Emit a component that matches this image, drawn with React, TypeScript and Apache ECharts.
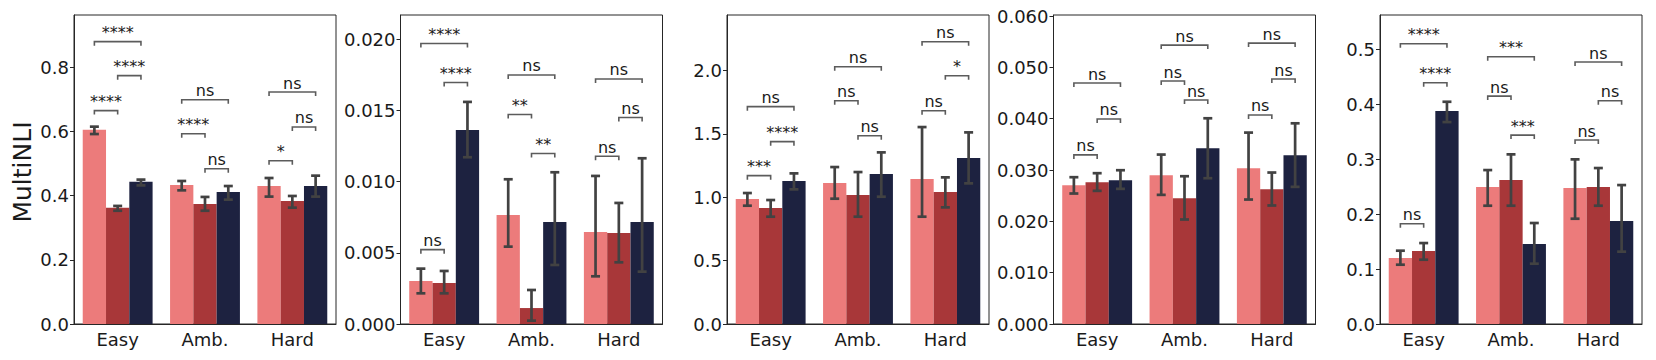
import React, { useEffect, useRef } from "react";
import * as echarts from "echarts";

const categories = ["Easy", "Amb.", "Hard"];
const groupColors = ["#EC7B7B", "#A83739", "#1D2240"];

// Panel 1 (MultiNLI): means, CI lows, CI highs for pink / red / navy
const p1Pink = [0.605, 0.433, 0.430];
const p1Red = [0.362, 0.374, 0.383];
const p1Navy = [0.443, 0.411, 0.430];
const p1Lo = [[0.592, 0.4166, 0.397], [0.353, 0.353, 0.3626], [0.432, 0.3875, 0.397]];
const p1Hi = [[0.615, 0.4457, 0.455], [0.368, 0.396, 0.399], [0.450, 0.430, 0.4623]];
const p1Brackets: [number, number, number, number, string][] = [
  [0, 0, 1, 0.665, "****"], [0, 1, 2, 0.774, "****"], [0, 0, 2, 0.880, "****"],
  [1, 0, 1, 0.593, "****"], [1, 1, 2, 0.484, "ns"], [1, 0, 2, 0.699, "ns"],
  [2, 0, 1, 0.509, "*"], [2, 1, 2, 0.614, "ns"], [2, 0, 2, 0.723, "ns"],
];
const p1Ticks = [0, 0.2, 0.4, 0.6, 0.8];

// Panel 2
const p2Pink = [0.00302, 0.00766, 0.00646];
const p2Red = [0.00288, 0.00112, 0.00639];
const p2Navy = [0.01363, 0.00717, 0.00717];
const p2Lo = [[0.002155, 0.005433, 0.003349], [0.002155, 0.000234, 0.004333], [0.01171, 0.004145, 0.003677]];
const p2Hi = [[0.003888, 0.010164, 0.010398], [0.003724, 0.002389, 0.008501], [0.015597, 0.010656, 0.011639]];
const p2Brackets: [number, number, number, number, string][] = [
  [0, 0, 1, 0.00522, "ns"], [0, 1, 2, 0.01696, "****"], [0, 0, 2, 0.0197, "****"],
  [1, 0, 1, 0.01471, "**"], [1, 1, 2, 0.01197, "**"], [1, 0, 2, 0.01749, "ns"],
  [2, 0, 1, 0.01178, "ns"], [2, 1, 2, 0.0145, "ns"], [2, 0, 2, 0.01721, "ns"],
];
const p2Ticks = [0, 0.005, 0.01, 0.015, 0.02];

// Panel 3
const p3Pink = [0.986, 1.112, 1.143];
const p3Red = [0.915, 1.017, 1.041];
const p3Navy = [1.127, 1.183, 1.309];
const p3Lo = [[0.933, 0.9882, 0.8463], [0.8463, 0.8463, 0.9198], [1.0618, 1.0039, 1.1091]];
const p3Hi = [[1.0329, 1.2378, 1.5532], [0.9777, 1.1984, 1.1564], [1.1879, 1.3535, 1.5112]];
const p3Brackets: [number, number, number, number, string][] = [
  [0, 0, 1, 1.17, "***"], [0, 1, 2, 1.438, "****"], [0, 0, 2, 1.714, "ns"],
  [1, 0, 1, 1.761, "ns"], [1, 1, 2, 1.485, "ns"], [1, 0, 2, 2.029, "ns"],
  [2, 0, 1, 1.682, "ns"], [2, 1, 2, 1.958, "*"], [2, 0, 2, 2.226, "ns"],
];
const p3Ticks = [0, 0.5, 1.0, 1.5, 2.0];

// Panel 4
const p4Pink = [0.02704, 0.02899, 0.03035];
const p4Red = [0.02763, 0.02451, 0.02626];
const p4Navy = [0.02802, 0.03424, 0.03288];
const p4Lo = [[0.02542, 0.02516, 0.02425], [0.02594, 0.02036, 0.02309], [0.02633, 0.0284, 0.02672]];
const p4Hi = [[0.0286, 0.03301, 0.03729], [0.02938, 0.02879, 0.02951], [0.02996, 0.04008, 0.0391]];
const p4Brackets: [number, number, number, number, string][] = [
  [0, 0, 1, 0.03294, "ns"], [0, 1, 2, 0.03995, "ns"], [0, 0, 2, 0.04695, "ns"],
  [1, 0, 1, 0.04734, "ns"], [1, 1, 2, 0.04364, "ns"], [1, 0, 2, 0.05434, "ns"],
  [2, 0, 1, 0.04073, "ns"], [2, 1, 2, 0.04773, "ns"], [2, 0, 2, 0.05473, "ns"],
];
const p4Ticks = [0, 0.01, 0.02, 0.03, 0.04, 0.05, 0.06];

// Panel 5
const p5Pink = [0.1201, 0.2494, 0.2476];
const p5Red = [0.1329, 0.2621, 0.2494];
const p5Navy = [0.3877, 0.1456, 0.1875];
const p5Lo = [[0.108, 0.2154, 0.1917], [0.1171, 0.2154, 0.2154], [0.3677, 0.1098, 0.1317]];
const p5Hi = [[0.1335, 0.2803, 0.2998], [0.1474, 0.3089, 0.284], [0.4047, 0.1839, 0.253]];
const p5Brackets: [number, number, number, number, string][] = [
  [0, 0, 1, 0.1826, "ns"], [0, 1, 2, 0.4393, "****"], [0, 0, 2, 0.5103, "****"],
  [1, 0, 1, 0.415, "ns"], [1, 1, 2, 0.344, "***"], [1, 0, 2, 0.4866, "***"],
  [2, 0, 1, 0.335, "ns"], [2, 1, 2, 0.4066, "ns"], [2, 0, 2, 0.477, "ns"],
];
const p5Ticks = [0, 0.1, 0.2, 0.3, 0.4, 0.5];

const panels = [
  { vals: [p1Pink, p1Red, p1Navy], lo: p1Lo, hi: p1Hi, brackets: p1Brackets, ticks: p1Ticks, max: 0.963, digits: 1 },
  { vals: [p2Pink, p2Red, p2Navy], lo: p2Lo, hi: p2Hi, brackets: p2Brackets, ticks: p2Ticks, max: 0.0217, digits: 3 },
  { vals: [p3Pink, p3Red, p3Navy], lo: p3Lo, hi: p3Hi, brackets: p3Brackets, ticks: p3Ticks, max: 2.437, digits: 1 },
  { vals: [p4Pink, p4Red, p4Navy], lo: p4Lo, hi: p4Hi, brackets: p4Brackets, ticks: p4Ticks, max: 0.0602, digits: 3 },
  { vals: [p5Pink, p5Red, p5Navy], lo: p5Lo, hi: p5Hi, brackets: p5Brackets, ticks: p5Ticks, max: 0.5627, digits: 1 },
];

const gridLefts = [74, 400.5, 727, 1053.5, 1380];
const FONT = "DejaVu Sans";

function barCenter(api: any, cat: number, g: number) {
  const cx = api.coord([cat, 0])[0];
  const bw = (api.size([1, 0])[0] * 0.8) / 3;
  return cx + (g - 1) * bw;
}

export default function App() {
  const ref = useRef<HTMLDivElement>(null);
  useEffect(() => {
    if (!ref.current) return;
    const chart = echarts.init(ref.current, undefined, { renderer: "svg" });
    const grid: any[] = [];
    const xAxis: any[] = [];
    const yAxis: any[] = [];
    const series: any[] = [];
    panels.forEach((p, i) => {
      grid.push({
        left: gridLefts[i], top: 15, width: 262, height: 309,
        show: true, borderColor: "#262626", borderWidth: 1, backgroundColor: "transparent",
      });
      xAxis.push({
        type: "category", gridIndex: i, data: categories,
        axisLine: { lineStyle: { color: "#262626", width: 1 } },
        axisTick: { alignWithLabel: true, length: 4, lineStyle: { color: "#262626" } },
        axisLabel: { fontFamily: FONT, fontSize: 18, color: "#1a1a1a", margin: 6 },
        splitLine: { show: false },
      });
      yAxis.push({
        type: "value", gridIndex: i, min: 0, max: p.max,
        axisLine: { show: true, lineStyle: { color: "#262626", width: 1 } },
        axisTick: { show: true, length: 4, lineStyle: { color: "#262626" }, customValues: p.ticks },
        axisLabel: {
          fontFamily: FONT, fontSize: 18, color: "#1a1a1a", margin: 5,
          customValues: p.ticks,
          formatter: (v: number) => v.toFixed(p.digits),
        },
        splitLine: { show: false },
      });
      p.vals.forEach((vals, g) => {
        series.push({
          type: "bar", xAxisIndex: i, yAxisIndex: i, data: vals,
          barGap: "0%", barCategoryGap: "20%",
          itemStyle: { color: groupColors[g] }, z: 2,
        });
      });
      const errData: number[][] = [];
      p.vals.forEach((vals, g) => {
        vals.forEach((_v, c) => errData.push([c, g, p.lo[g][c], p.hi[g][c]]));
      });
      series.push({
        type: "custom", xAxisIndex: i, yAxisIndex: i, z: 5, clip: false,
        data: errData,
        renderItem: (params: any, api: any) => {
          const d = errData[params.dataIndex];
          const x = barCenter(api, d[0], d[1]);
          const y1 = api.coord([d[0], d[2]])[1];
          const y2 = api.coord([d[0], d[3]])[1];
          const st = { stroke: "#424242", lineWidth: 2.7 };
          const hw = 4.5;
          return {
            type: "group",
            children: [
              { type: "line", shape: { x1: x, y1, x2: x, y2 }, style: st },
              { type: "line", shape: { x1: x - hw, y1, x2: x + hw, y2: y1 }, style: st },
              { type: "line", shape: { x1: x - hw, y1: y2, x2: x + hw, y2 }, style: st },
            ],
          };
        },
      });
      const br = p.brackets;
      series.push({
        type: "custom", xAxisIndex: i, yAxisIndex: i, z: 6, clip: false,
        data: br.map((b) => [b[0], b[3]]),
        renderItem: (params: any, api: any) => {
          const b = br[params.dataIndex];
          const xa = barCenter(api, b[0], b[1]);
          const xb = barCenter(api, b[0], b[2]);
          const y = api.coord([b[0], b[3]])[1];
          const drop = 4;
          return {
            type: "group",
            children: [
              {
                type: "polyline",
                shape: { points: [[xa, y + drop], [xa, y], [xb, y], [xb, y + drop]] },
                style: { stroke: "#5c5c5c", lineWidth: 1.6, fill: null },
              },
              {
                type: "text",
                x: (xa + xb) / 2, y: y - 1,
                style: {
                  text: b[4], fontFamily: FONT, fontSize: 16, fill: "#1a1a1a",
                  align: "center", verticalAlign: "bottom",
                },
              },
            ],
          };
        },
      });
    });
    chart.setOption({
      animation: false,
      backgroundColor: "#ffffff",
      grid, xAxis, yAxis, series,
      graphic: [
        {
          type: "text", x: 22.5, y: 172, rotation: Math.PI / 2,
          style: {
            text: "MultiNLI", fontFamily: FONT, fontSize: 25, fill: "#1a1a1a",
            align: "center", verticalAlign: "middle",
          },
        },
      ],
    });
    return () => chart.dispose();
  }, []);
  return <div ref={ref} style={{ width: 1656, height: 360, position: "absolute", left: 0, top: 0 }} />;
}
